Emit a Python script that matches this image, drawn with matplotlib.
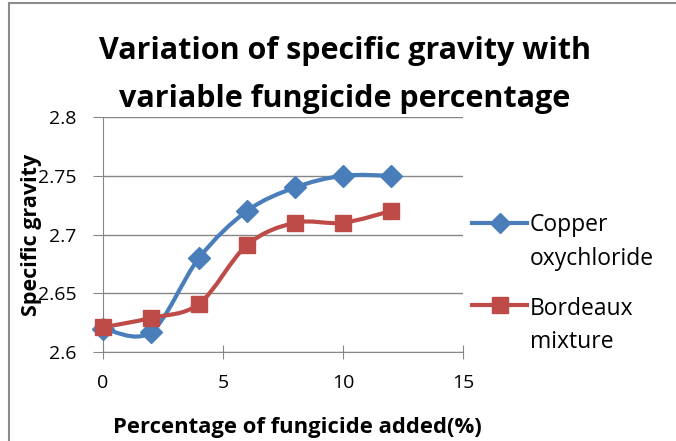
import numpy as np
import matplotlib
matplotlib.use('Agg')
import matplotlib.pyplot as plt
from matplotlib.path import Path
from matplotlib.patches import PathPatch
from matplotlib.lines import Line2D

#-----------------------------------------------------------------------------
# data

fungicide = [0, 2, 4, 6, 8, 10, 12]
copper = [2.620, 2.617, 2.680, 2.720, 2.740, 2.750, 2.750]
bordeaux = [2.621, 2.629, 2.641, 2.691, 2.710, 2.710, 2.720]
names = ['Copper\noxychloride', 'Bordeaux\nmixture']
colors = ['#4A7EBB', '#BE4B48']
markers = ['D', 's']

#-----------------------------------------------------------------------------

plt.rcParams['font.family'] = ['Open Sans', 'DejaVu Sans']

def smooth_path(x, y):
    '''excel-ish smoothed line: catmull-rom as cubic beziers'''
    p = np.column_stack([x, y]).astype(float)
    pp = np.vstack([p[0], p, p[-1]])
    verts = [p[0]]
    codes = [Path.MOVETO]
    for i in range(1, len(pp) - 2):
        c1 = pp[i] + (pp[i+1] - pp[i-1]) / 6.0
        c2 = pp[i+1] - (pp[i+2] - pp[i]) / 6.0
        verts += [c1, c2, pp[i+1]]
        codes += [Path.CURVE4] * 3
    return Path(verts, codes)

fig = plt.figure(figsize=(6.76, 4.41), dpi=100)
ax = fig.add_axes([0.1524, 0.2018, 0.5325, 0.5329])

for ys, c in zip([copper, bordeaux], colors):
    ax.add_patch(PathPatch(smooth_path(fungicide, ys), fill=False,
                           edgecolor=c, lw=3, capstyle='round', zorder=3))
for ys, c, m, ms in zip([copper, bordeaux], colors, markers, [11, 12]):
    ax.plot(fungicide, ys, ls='none', marker=m, ms=ms, color=c,
            mec=c, zorder=4, clip_on=False)

ax.set_xlim(0, 15)
ax.set_ylim(2.6, 2.8)
ax.set_xticks([0, 5, 10, 15])
ax.set_yticks([2.6, 2.65, 2.7, 2.75, 2.8])
ax.set_yticklabels(['2.6', '2.65', '2.7', '2.75', '2.8'])
ax.yaxis.grid(True, color='#868686', lw=1)
ax.set_axisbelow(True)
for s in ['top', 'right']:
    ax.spines[s].set_visible(False)
for s in ['left', 'bottom']:
    ax.spines[s].set_color('#868686')
ax.tick_params(axis='y', direction='out', length=7, color='#868686',
               labelsize=14, pad=12)
ax.tick_params(axis='x', direction='inout', length=10, color='#868686',
               labelsize=14, pad=11)

ax.set_xlabel('Percentage of fungicide added(%)', fontsize=15.8,
              fontweight='bold')
ax.xaxis.set_label_coords(0.54, -0.275)
ax.set_ylabel('Specific gravity', fontsize=15.5, fontweight='bold')
ax.yaxis.set_label_coords(-0.17, 0.5)

fig.text(0.51, 0.83, 'Variation of specific gravity with\nvariable fungicide percentage',
         ha='center', va='center', fontsize=22, fontweight='bold',
         linespacing=1.78)

# legend drawn by hand so the key lines up with the first text line
for i, (name, c, m, ms) in enumerate(zip(names, colors, markers, [10, 11.5])):
    ky = [0.494, 0.308][i]
    ty = [0.452, 0.262][i]
    fig.add_artist(Line2D([0.698, 0.780], [ky, ky], color=c, lw=3,
                          transform=fig.transFigure))
    fig.add_artist(Line2D([0.739], [ky], color=c, marker=m, ms=ms,
                          transform=fig.transFigure))
    fig.text(0.784, ty, name, ha='left', va='center',
             fontsize=16.5, linespacing=1.55)

# thin chart border like the spreadsheet frame
fig.add_artist(Line2D([0.013, 0.013], [0, 0.993], color='#8c8c8c', lw=1.5,
                      transform=fig.transFigure))
fig.add_artist(Line2D([0.013, 1], [0.993, 0.993], color='#8c8c8c', lw=1.5,
                      transform=fig.transFigure))

fig.savefig('out.png', dpi=100)
